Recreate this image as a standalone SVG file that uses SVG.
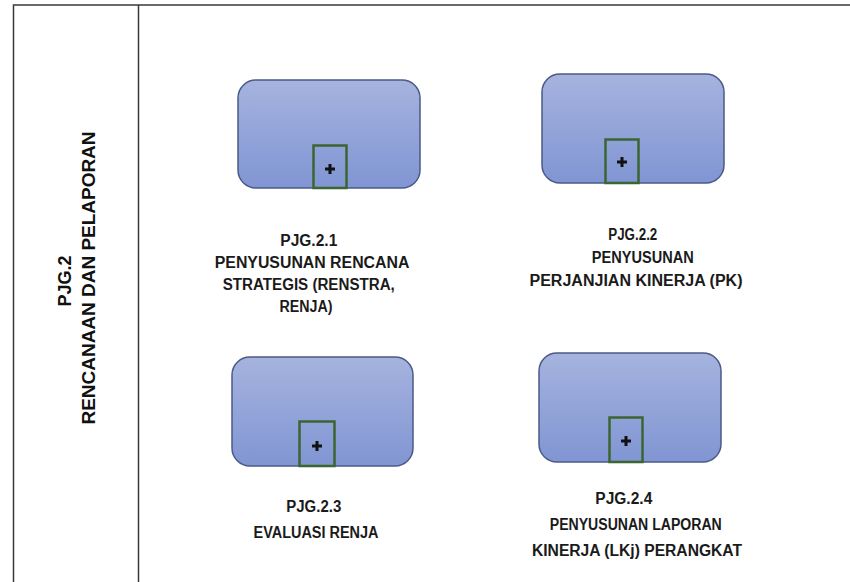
<svg xmlns="http://www.w3.org/2000/svg" width="850" height="582" viewBox="0 0 850 582">
  <defs>
    <linearGradient id="procFill" x1="0" y1="0" x2="0" y2="1">
      <stop offset="0" stop-color="#a6b3de"/>
      <stop offset="1" stop-color="#8095d3"/>
    </linearGradient>
    <style>
      .frame { stroke: #3a3a3a; stroke-width: 1.5; fill: none; }
      .proc { fill: url(#procFill); stroke: #4b5a86; stroke-width: 1.5; }
      .marker { fill: none; stroke: #3b6531; stroke-width: 2.5; }
      .plus { stroke: #111; stroke-width: 3; fill: none; }
      .label { font-family: "Liberation Sans", Arial, sans-serif; font-weight: bold; font-size: 16px; fill: #1a1a1a; text-anchor: middle; }
      .lane { font-family: "Liberation Sans", Arial, sans-serif; font-weight: bold; font-size: 18px; fill: #111; text-anchor: middle; }
    </style>
  </defs>

  <rect width="850" height="582" fill="#ffffff"/>

  <!-- pool frame -->
  <g id="pool">
    <path class="frame" d="M13.5 582 V5 H850"/>
    <path class="frame" d="M138.5 5 V582"/>
    <text class="lane" transform="translate(71 281) rotate(-90)">PJG.2</text>
    <text class="lane" transform="translate(95 278) rotate(-90)" textLength="293" lengthAdjust="spacingAndGlyphs">RENCANAAN DAN PELAPORAN</text>
  </g>

  <g id="connectors"></g>

  <!-- PJG.2.1 -->
  <g id="pjg-2-1">
    <rect class="proc" x="238" y="80" width="182" height="108" rx="18"/>
    <rect class="marker" x="313.5" y="145.5" width="33" height="42.5"/>
    <path class="plus" d="M325 169 H335 M330 164 V174"/>
    <text class="label">
      <tspan x="311" y="246" textLength="57" lengthAdjust="spacingAndGlyphs">PJG.2.1</tspan>
      <tspan x="314" y="268" textLength="194" lengthAdjust="spacingAndGlyphs">PENYUSUNAN RENCANA</tspan>
      <tspan x="311" y="290" textLength="172" lengthAdjust="spacingAndGlyphs">STRATEGIS (RENSTRA,</tspan>
      <tspan x="306" y="312" textLength="53" lengthAdjust="spacingAndGlyphs">RENJA)</tspan>
    </text>
  </g>

  <!-- PJG.2.2 -->
  <g id="pjg-2-2">
    <rect class="proc" x="542" y="74" width="182" height="109" rx="18"/>
    <rect class="marker" x="605.5" y="139.5" width="33" height="43.5"/>
    <path class="plus" d="M617 162 H627 M622 157 V167"/>
    <text class="label">
      <tspan x="635" y="240" textLength="49" lengthAdjust="spacingAndGlyphs">PJG.2.2</tspan>
      <tspan x="645" y="263" textLength="102" lengthAdjust="spacingAndGlyphs">PENYUSUNAN</tspan>
      <tspan x="636" y="286" textLength="213" lengthAdjust="spacingAndGlyphs">PERJANJIAN KINERJA (PK)</tspan>
    </text>
  </g>

  <!-- PJG.2.3 -->
  <g id="pjg-2-3">
    <rect class="proc" x="232" y="357" width="181" height="109" rx="18"/>
    <rect class="marker" x="299.5" y="421.5" width="35" height="44.5"/>
    <path class="plus" d="M312 446 H322 M317 441 V451"/>
    <text class="label">
      <tspan x="316" y="512" textLength="55" lengthAdjust="spacingAndGlyphs">PJG.2.3</tspan>
      <tspan x="316" y="538" textLength="125" lengthAdjust="spacingAndGlyphs">EVALUASI RENJA</tspan>
    </text>
  </g>

  <!-- PJG.2.4 -->
  <g id="pjg-2-4">
    <rect class="proc" x="539" y="353" width="182" height="109" rx="18"/>
    <rect class="marker" x="609.5" y="417.5" width="33" height="44.5"/>
    <path class="plus" d="M621 441 H631 M626 436 V446"/>
    <text class="label">
      <tspan x="626" y="504" textLength="57" lengthAdjust="spacingAndGlyphs">PJG.2.4</tspan>
      <tspan x="638" y="530" textLength="172" lengthAdjust="spacingAndGlyphs">PENYUSUNAN LAPORAN</tspan>
      <tspan x="637" y="556" textLength="210" lengthAdjust="spacingAndGlyphs">KINERJA (LKj) PERANGKAT</tspan>
    </text>
  </g>
</svg>
